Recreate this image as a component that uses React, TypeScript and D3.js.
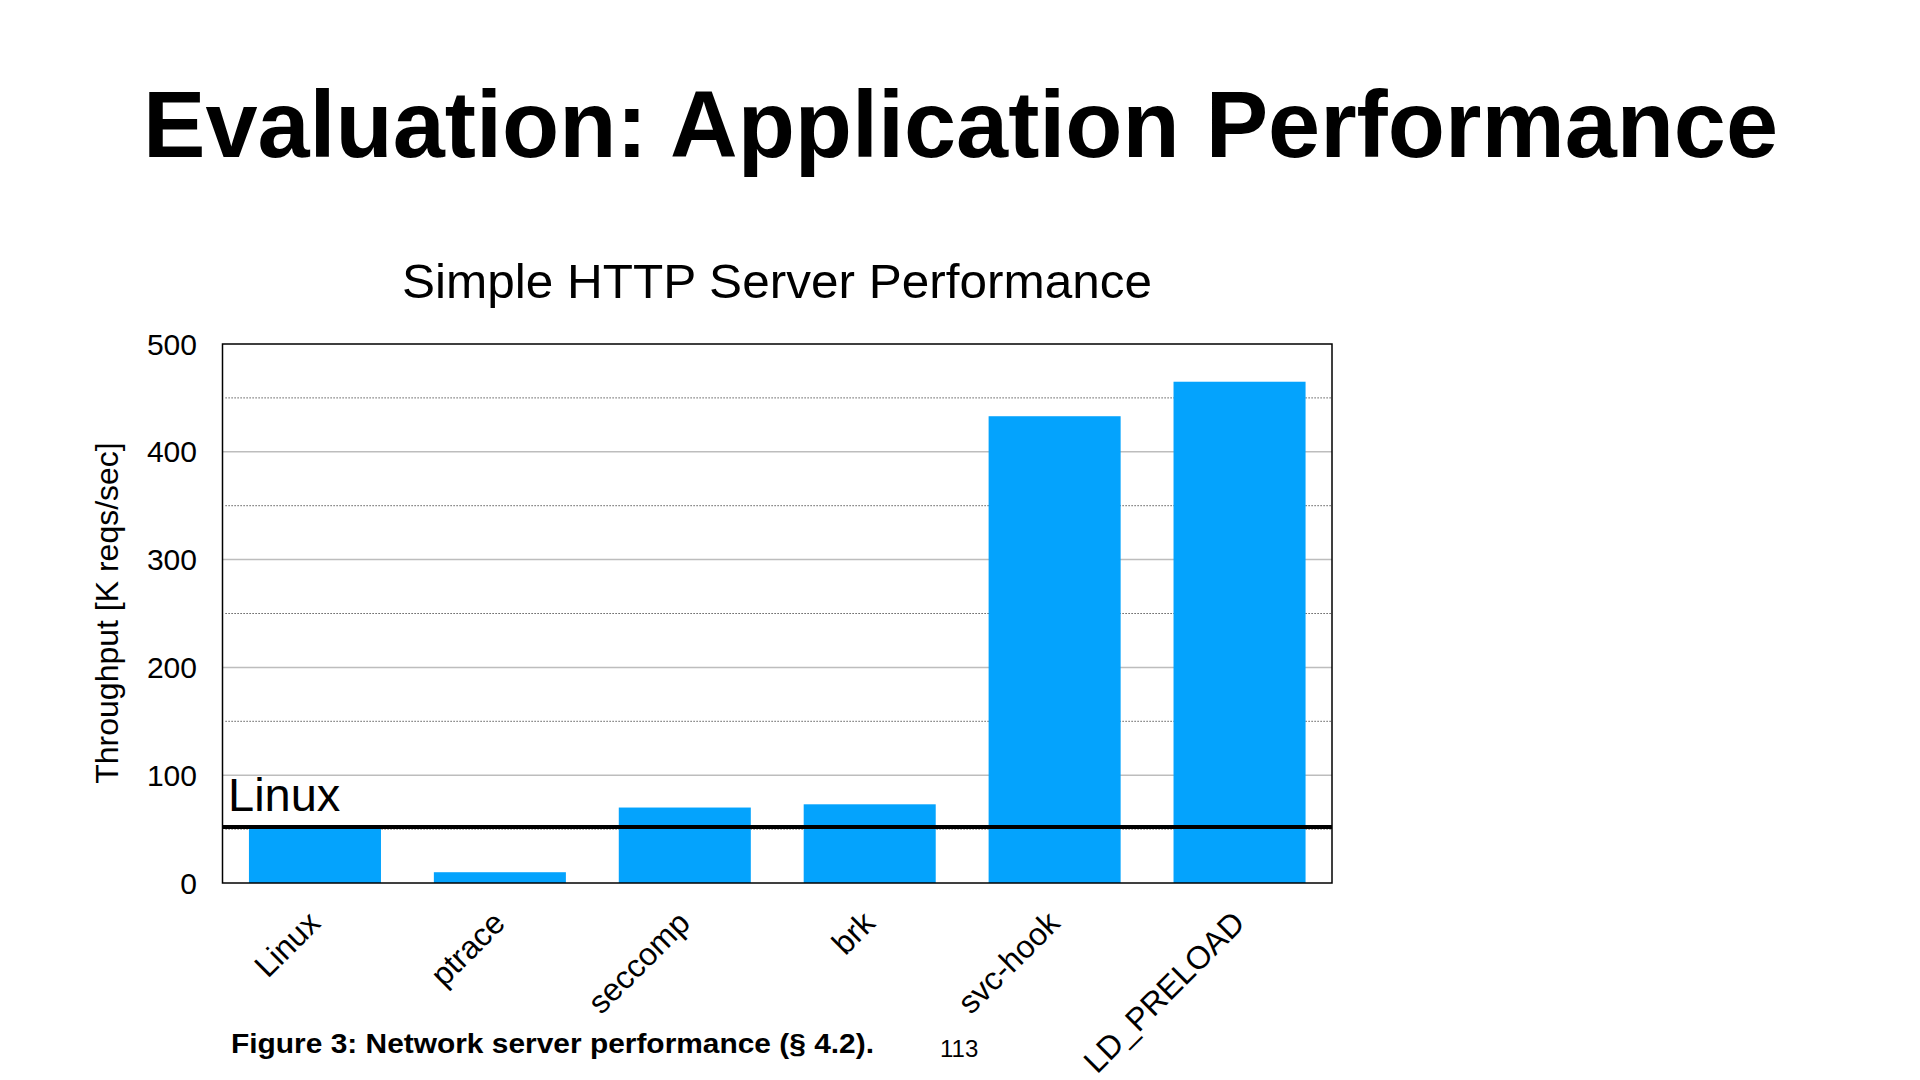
import React from "react";
import * as d3 from "d3";

const categories = ["Linux", "ptrace", "seccomp", "brk", "svc-hook", "LD_PRELOAD"];
const throughput = [52, 10, 70, 73, 433, 465];
const baselineValue = 52;
const baselineLabel = "Linux";
const yTicks = [0, 100, 200, 300, 400, 500];
const minorTicks = [50, 150, 250, 350, 450];
const solidGrid = [100, 200, 300, 400];

const pageTitle = "Evaluation: Application Performance";
const chartTitle = "Simple HTTP Server Performance";
const yAxisTitle = "Throughput [K reqs/sec]";
const caption = "Figure 3: Network server performance (§ 4.2).";
const pageNumber = "113";

const FONT = "'Liberation Sans', Arial, Helvetica, sans-serif";

export default function App() {
  const left = 222.5;
  const right = 1332;
  const top = 344;
  const bottom = 883;

  const x = d3
    .scaleBand<string>()
    .domain(categories)
    .range([left, right])
    .paddingInner(0.286)
    .paddingOuter(0.143);
  const y = d3.scaleLinear().domain([0, 500]).range([bottom, top]);

  const barColor = "#04A3FD";

  return (
    <svg
      width={1920}
      height={1080}
      style={{ position: "absolute", left: 0, top: 0, background: "#fff" }}
      fontFamily={FONT}
    >
      <rect x={0} y={0} width={1920} height={1080} fill="#fff" />
      {/* page title */}
      <text
        x={143}
        y={157}
        fontSize={95}
        fontWeight="bold"
        fill="#000"
        textLength={1635}
        lengthAdjust="spacingAndGlyphs"
      >
        {pageTitle}
      </text>
      {/* chart title */}
      <text
        x={402}
        y={298}
        fontSize={49}
        fill="#000"
        textLength={750}
        lengthAdjust="spacingAndGlyphs"
      >
        {chartTitle}
      </text>

      {/* gridlines */}
      {solidGrid.map((v) => (
        <line
          key={"g" + v}
          x1={left}
          x2={right}
          y1={y(v)}
          y2={y(v)}
          stroke="#bdbdbd"
          strokeWidth={1.5}
        />
      ))}
      {minorTicks.map((v) => (
        <line
          key={"m" + v}
          x1={left + 3}
          x2={right}
          y1={y(v)}
          y2={y(v)}
          stroke="#333"
          strokeWidth={1}
          strokeDasharray="1.2,1.8"
        />
      ))}

      {/* bars */}
      {categories.map((c, i) => (
        <rect
          key={c}
          x={x(c)}
          y={y(throughput[i])}
          width={x.bandwidth()}
          height={y(0) - y(throughput[i])}
          fill={barColor}
        />
      ))}

      {/* frame */}
      <rect
        x={left}
        y={top}
        width={right - left}
        height={bottom - top}
        fill="none"
        stroke="#000"
        strokeWidth={1.5}
      />

      {/* baseline */}
      <line
        x1={left}
        x2={right}
        y1={y(baselineValue)}
        y2={y(baselineValue)}
        stroke="#000"
        strokeWidth={4}
      />
      <text x={228} y={811} fontSize={47} fill="#000">
        {baselineLabel}
      </text>

      {/* y ticks */}
      {yTicks.map((v) => (
        <text
          key={"t" + v}
          x={197}
          y={y(v)}
          fontSize={30}
          textAnchor="end"
          dominantBaseline="central"
          fill="#000"
        >
          {v}
        </text>
      ))}

      {/* y axis title */}
      <text
        transform={`translate(118, ${613}) rotate(-90)`}
        fontSize={32}
        textAnchor="middle"
        fill="#000"
      >
        {yAxisTitle}
      </text>

      {/* x labels */}
      {categories.map((c) => (
        <text
          key={"x" + c}
          transform={`translate(${(x(c) as number) + x.bandwidth() / 2 + 7}, 925) rotate(-45)`}
          fontSize={32}
          textAnchor="end"
          fill="#000"
        >
          {c}
        </text>
      ))}

      {/* caption */}
      <text
        x={231}
        y={1053}
        fontSize={28}
        fontWeight="bold"
        fill="#000"
        textLength={643}
        lengthAdjust="spacingAndGlyphs"
      >
        {caption}
      </text>
      <text x={940} y={1057} fontSize={24} fill="#000">
        {pageNumber}
      </text>
    </svg>
  );
}
